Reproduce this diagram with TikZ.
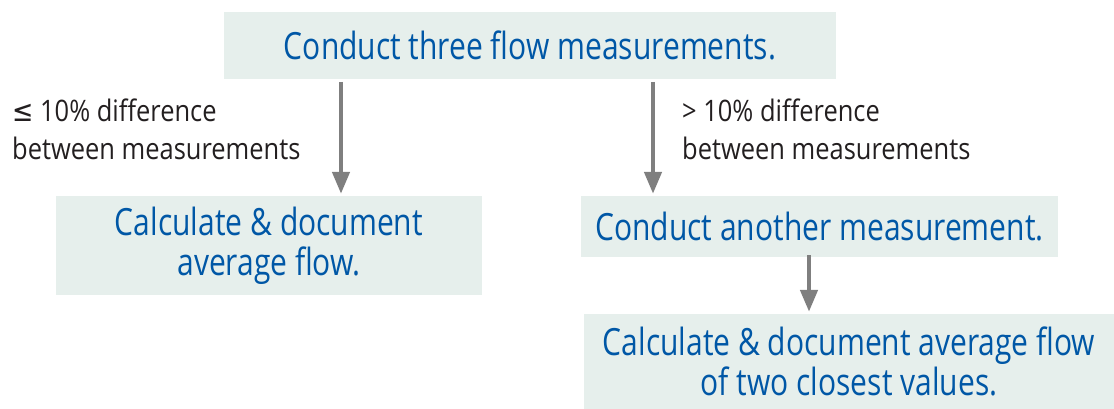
\documentclass[tikz,border=0pt]{standalone}
\usepackage{fontspec}
\setmainfont{Open Sans}
\newfontfamily\boxfont[FakeStretch=0.8]{Open Sans}
\newfontfamily\labfont[FakeStretch=0.86]{Open Sans}
\newfontfamily\symfont[FakeStretch=0.86]{DejaVu Sans}
\usetikzlibrary{arrows.meta,calc}
\definecolor{boxfill}{HTML}{E6EFEC}
\definecolor{boxtext}{HTML}{0057A6}
\definecolor{labtext}{HTML}{231F20}
\definecolor{arrowgray}{HTML}{7F7F7F}
\begin{document}
\begin{tikzpicture}[x=1pt,y=-1pt,
  stepbox/.style={fill=boxfill, inner sep=0pt, text=boxtext,
    font=\boxfont\fontsize{37.5}{40}\selectfont, align=center},
  lab/.style={anchor=north west, inner sep=0pt, text=labtext,
    font=\labfont\fontsize{29.6}{38}\selectfont, align=left},
  arr/.style={draw=arrowgray, line width=4.5pt,
    -{Triangle[width=17pt,length=22pt]}, shorten >=2pt}]
\useasboundingbox (0,0) rectangle (1114,409);
\node[stepbox, minimum width=612pt, minimum height=67pt] (top) at (530,45.5)
  {Conduct three flow measurements.};
\node[stepbox, minimum width=426pt, minimum height=99pt] (b2) at (269,245.5)
  {Calculate \& document\\average flow.};
\node[stepbox, minimum width=477pt, minimum height=60.5pt] (b3) at (819.5,226.25)
  {Conduct another measurement.};
\node[stepbox, minimum width=530pt, minimum height=95pt] (b4) at (849,361.5)
  {Calculate \& document average flow\\of two closest values.};
\node[lab] (l1) at (12,99) {{\symfont≤} 10\% difference\\between measurements};
\node[lab] (l2) at (682,99) {> 10\% difference\\between measurements};
\coordinate (s1) at (341,82);
\coordinate (s2) at (653,82);
\coordinate (s3) at (809,255);
\draw[arr] (s1) -- (s1 |- b2.north);
\draw[arr] (s2) -- (s2 |- b3.north);
\draw[arr] (s3) -- (s3 |- b4.north);
\end{tikzpicture}
\end{document}
